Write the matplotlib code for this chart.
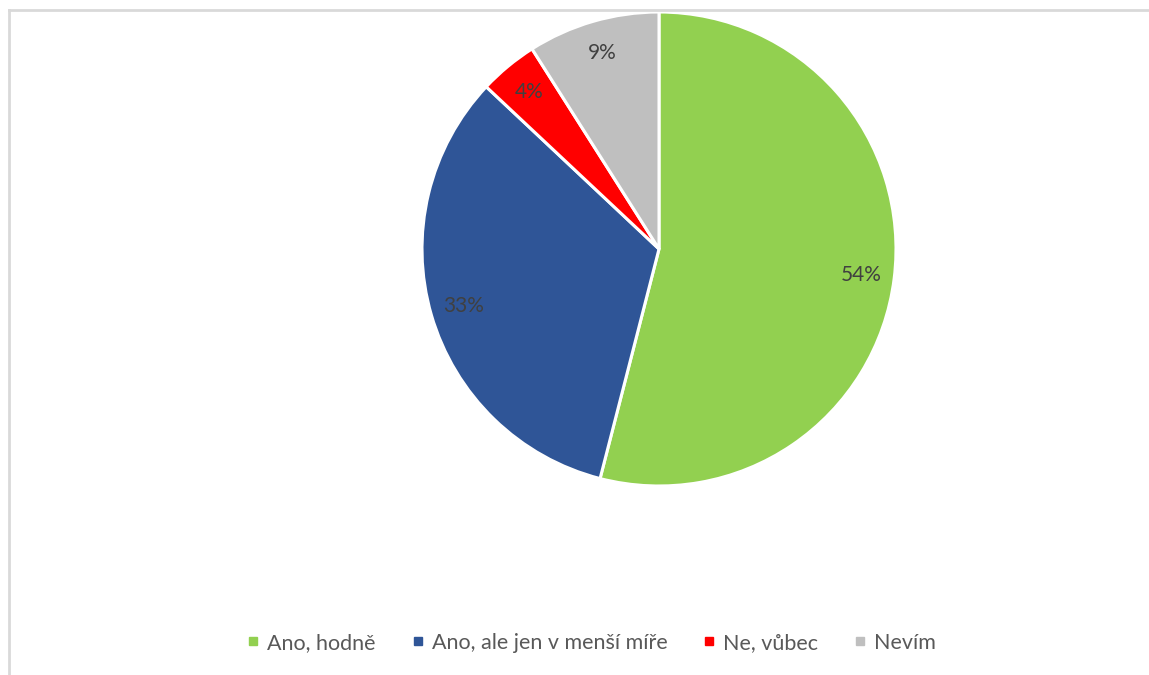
import matplotlib
matplotlib.use("Agg")
import matplotlib.pyplot as plt
from matplotlib.lines import Line2D

categories = ["Ano, hodně", "Ano, ale jen v menší míře", "Ne, vůbec", "Nevím"]
values = [54, 33, 4, 9]
colors = ["#92D050", "#2F5597", "#FF0000", "#BFBFBF"]

plt.rcParams['font.family'] = ['Lato', 'DejaVu Sans']

W, H = 1149, 675
fig = plt.figure(figsize=(W / 100, H / 100), dpi=100)

cx, cy, r = 659, 249, 237
ax = fig.add_axes([(cx - r) / W, (H - cy - r) / H, 2 * r / W, 2 * r / H])
wedges, texts, autotexts = ax.pie(
    values, colors=colors, startangle=90, counterclock=False,
    autopct=lambda p: f"{p:.0f}%", pctdistance=0.86, radius=1,
    wedgeprops=dict(edgecolor="white", linewidth=2.2),
    textprops=dict(color="#404040", fontsize=15))
ax.set_xlim(-1, 1)
ax.set_ylim(-1, 1)
ax.set_aspect("equal")
ax.axis("off")

# chart border (left and top)
bx, by = 8.5 / W, 1 - 9.5 / H
fig.add_artist(Line2D([bx, bx], [0, by], color="#D9D9D9", lw=2, transform=fig.transFigure))
fig.add_artist(Line2D([bx, 1], [by, by], color="#D9D9D9", lw=2, transform=fig.transFigure))

handles = [Line2D([], [], marker="s", linestyle="none", markersize=6,
                  markerfacecolor=c, markeredgecolor=c) for c in colors]
fig.legend(handles, categories, loc="center", bbox_to_anchor=(592 / W, 1 - 643 / H),
           ncol=4, frameon=False, fontsize=15.5, labelcolor="#595959",
           handlelength=0.5, handletextpad=0.4, columnspacing=1.7)

fig.savefig("out.png", dpi=100, facecolor="white")
